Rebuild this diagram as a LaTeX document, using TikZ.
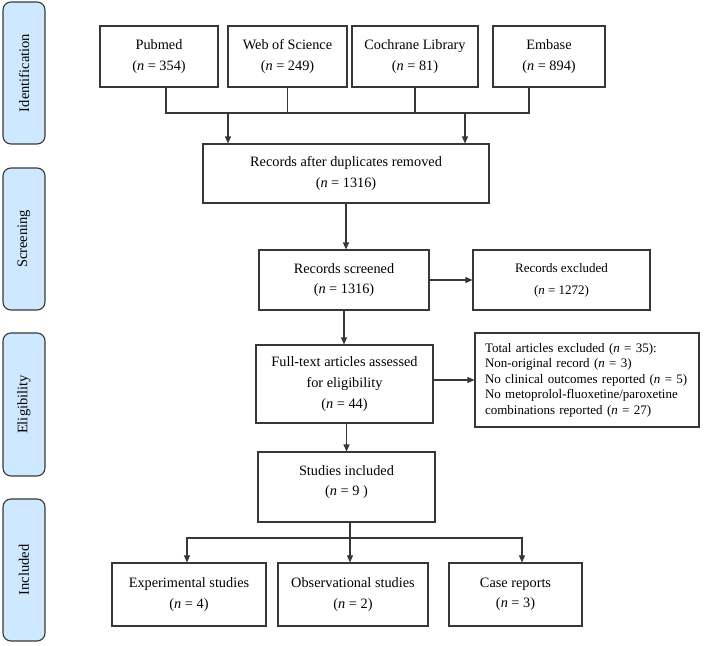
\documentclass[tikz,border=0pt]{standalone}
\usepackage{fontspec}
\setmainfont{Liberation Serif}
\usetikzlibrary{arrows.meta}
\definecolor{barfill}{RGB}{206,233,255}
\definecolor{edge}{RGB}{55,55,55}
\begin{document}
\begin{tikzpicture}[x=1pt,y=-1pt,
  box/.style={draw=edge,line width=1.1pt,rectangle,align=center,inner sep=0pt,
    font=\fontsize{14.3}{20.5}\selectfont},
  smallbox/.style={box,font=\fontsize{13}{22}\selectfont},
  listbox/.style={draw=edge,line width=1.1pt,rectangle,align=left,inner xsep=10pt,inner ysep=0pt,
    font=\fontsize{13}{15.5}\selectfont},
  bar/.style={draw=edge,line width=1.1pt,fill=barfill,rounded corners=8pt,
    minimum width=42pt,inner sep=0pt,font=\fontsize{14.5}{16}\selectfont},
  conn/.style={draw=edge,line width=1.1pt},
  arr/.style={conn,-{Triangle[length=7pt,width=6pt]}}]
\useasboundingbox (0,0) rectangle (709,645);

% phase bars
\node[bar,minimum height=142pt] (bid) at (24,73) {\rotatebox{90}{Identification}};
\node[bar,minimum height=142pt] (bsc) at (24,239) {\rotatebox{90}{Screening}};
\node[bar,minimum height=143pt] (bel) at (24,404.5) {\rotatebox{90}{Eligibility}};
\node[bar,minimum height=142pt] (bin) at (24,570) {\rotatebox{90}{Included}};

% identification
\node[box,minimum width=118pt,minimum height=61pt] (pub) at (159,56.5) {Pubmed\\(\textit{n} = 354)};
\node[box,minimum width=119pt,minimum height=61pt] (wos) at (287.5,56.5) {Web of Science\\(\textit{n} = 249)};
\node[box,minimum width=126pt,minimum height=61pt] (coc) at (415,56.5) {Cochrane Library\\(\textit{n} = 81)};
\node[box,minimum width=112pt,minimum height=61pt] (emb) at (549,56.5) {Embase\\(\textit{n} = 894)};

\node[box,minimum width=286pt,minimum height=59pt] (dup) at (346,173.5) {Records after duplicates removed\\(\textit{n} = 1316)};

\coordinate (busL) at (166,113);
\coordinate (busR) at (529,113);
\coordinate (a1) at (228,113);
\coordinate (a2) at (465,113);

\draw[conn] (pub.south -| busL) -- (busL) -- (busR) -- (emb.south -| busR);
\draw[conn] (wos.south) -- (wos.south |- busL);
\draw[conn] (coc.south) -- (coc.south |- busL);
\draw[arr] (a1) -- (dup.north -| a1);
\draw[arr] (a2) -- (dup.north -| a2);

% screening
\node[box,minimum width=170pt,minimum height=60pt] (scr) at (344,280) {Records screened\\(\textit{n} = 1316)};
\node[smallbox,minimum width=177pt,minimum height=60pt] (exc) at (561.5,280) {Records excluded\\(\textit{n} = 1272)};
\draw[arr] (dup.south) -- (dup.south |- scr.north);
\draw[arr] (scr.east) -- (exc.west);

% eligibility
\node[box,minimum width=177pt,minimum height=78pt,font=\fontsize{14.3}{21}\selectfont] (ful) at (344.5,384) {Full-text articles assessed\\for eligibility\\(\textit{n} = 44)};
\node[listbox,minimum width=224pt,minimum height=94pt,text width=204pt] (tot) at (587,380) {Total articles excluded (\textit{n} = 35):\\Non-original record (\textit{n} = 3)\\No clinical outcomes reported (\textit{n} = 5)\\No metoprolol-fluoxetine/paroxetine\\combinations reported (\textit{n} = 27)};
\draw[arr] (scr.south) -- (scr.south |- ful.north);
\draw[arr] (ful.east |- tot.west) -- (tot.west);

% included
\node[box,minimum width=177pt,minimum height=70pt] (stu) at (346.5,487) {Studies included\\(\textit{n} = 9 )\\[-8pt]\mbox{}};
\draw[arr] (ful.south -| stu.north) -- (stu.north);

\node[box,minimum width=154pt,minimum height=63pt] (exp) at (189,594.5) {Experimental studies\\(\textit{n} = 4)};
\node[box,minimum width=150pt,minimum height=63pt] (obs) at (353,594.5) {Observational studies\\(\textit{n} = 2)};
\node[box,minimum width=133pt,minimum height=63pt] (cas) at (515.5,594.5) {Case reports\\(\textit{n} = 3)};

\coordinate (hub) at (350,538);
\coordinate (hL) at (187,538);
\coordinate (hR) at (522,538);
\draw[conn] (stu.south -| hub) -- (hub);
\draw[arr] (hub) -- (obs.north -| hub);
\draw[arr] (hub) -- (hL) -- (exp.north -| hL);
\draw[arr] (hub) -- (hR) -- (cas.north -| hR);
\end{tikzpicture}
\end{document}
